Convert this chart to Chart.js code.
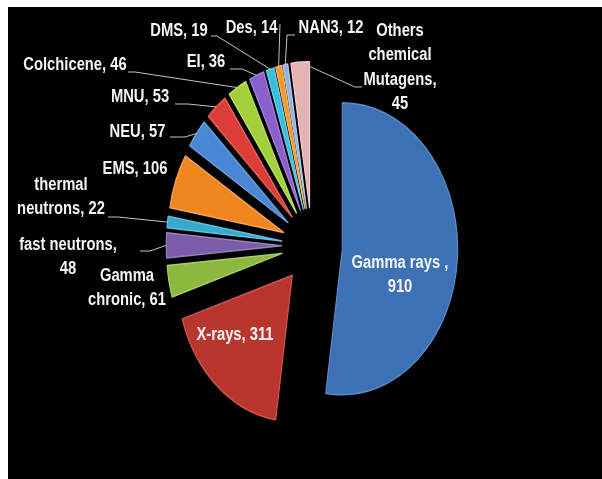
<!DOCTYPE html>
<html>
<head>
<meta charset="utf-8">
<script src="https://cdn.jsdelivr.net/npm/chart.js@4.4.1/dist/chart.umd.min.js"></script>
<style>
  html, body { margin: 0; padding: 0; background: #ffffff; }
  canvas { display: block; }
</style>
</head>
<body>
<canvas id="c" width="602" height="479"></canvas>
<script>
// Mutagen usage: physical and chemical agents
const categories = ['Gamma rays ', 'X-rays', 'Gamma chronic', 'fast neutrons', 'thermal neutrons',
  'EMS', 'NEU', 'MNU', 'Colchicene', 'EI', 'DMS', 'Des', 'NAN3', 'Others chemical Mutagens'];
const counts = [910, 311, 61, 48, 22, 106, 57, 53, 46, 36, 19, 14, 12, 45];

const sliceColors = ['#3d71b4', '#b9362f', '#8cb83f', '#7b5ca9', '#36a9cf', '#f0861f',
  '#4a87d4', '#dc3d38', '#a3cf3b', '#8a60cc', '#3bbde0', '#f49727', '#93b3de', '#e6b3b3'];
const rimColors = ['#5a8bcb', '#cf5650', '#a6cf62', '#9880c0', '#62c0de', '#f6a457',
  '#6aa0e0', '#e86560', '#bde065', '#a383db', '#6ad0ec', '#f8b45e', '#b0c9ea', '#f1cccc'];

// Label text blocks: centre x, middle of first line, words per line, leader start points
const labelLayout = [
  { x: 400,   y: 263, lines: [3, 1] },
  { x: 235,   y: 335, lines: [2] },
  { x: 127,   y: 276, lines: [1, 2] },
  { x: 68,    y: 245, lines: [2, 1], leader: [[140, 251], [150, 251]] },
  { x: 61,    y: 185, lines: [1, 2], leader: [[108, 217], [118, 217]] },
  { x: 135,   y: 169, lines: [2] },
  { x: 137.5, y: 132, lines: [2], leader: [[170, 137], [185, 137]] },
  { x: 140,   y: 97,  lines: [2], leader: [[175, 104], [188, 104]] },
  { x: 75,    y: 65,  lines: [2], leader: [[128, 72], [135, 72]] },
  { x: 206,   y: 62,  lines: [2], leader: [[230, 69], [242, 69]] },
  { x: 179,   y: 31,  lines: [2], leader: [[211, 36], [217, 36]] },
  { x: 251.5, y: 28,  lines: [2], leader: [[280, 24]] },
  { x: 331,   y: 28,  lines: [2], leader: [[295, 35], [287, 35]] },
  { x: 400,   y: 31,  lines: [1, 1, 1, 1], leader: [[362, 87], [355, 87]] }
];

const PIE_RADIUS = 146;     // outer radius before the horizontal squash
const EXPLODE = 38.5;       // distance every slice is pulled out from the centre
const SQUASH_X = 0.79;      // horizontal scale giving the tilted-disc look
const LINE_H = 24.5;
const LABEL_FONT = 'bold 18px "Liberation Sans", Arial, sans-serif';
const LABEL_NARROW = 0.82;  // condensed lettering

function labelLines(i) {
  const words = (categories[i] + ', ' + counts[i]).split(' ');
  const out = [];
  let k = 0;
  for (const n of labelLayout[i].lines) {
    out.push(words.slice(k, k + n).join(' '));
    k += n;
  }
  return out;
}

const explodedPie = {
  id: 'explodedPie',
  beforeDraw(chart) {
    const ctx = chart.ctx;
    ctx.save();
    ctx.fillStyle = '#000000';
    ctx.fillRect(8, 7, chart.width - 8, chart.height - 7);
    ctx.restore();
  },
  afterDatasetUpdate(chart, args) {
    for (const arc of args.meta.data) {
      const mid = (arc.startAngle + arc.endAngle) / 2;
      arc.x += Math.cos(mid) * EXPLODE;
      arc.y += Math.sin(mid) * EXPLODE;
    }
  },
  beforeDatasetsDraw(chart) {
    const a = chart.chartArea;
    const cx = (a.left + a.right) / 2;
    const ctx = chart.ctx;
    ctx.save();
    ctx.translate(cx, 0);
    ctx.scale(SQUASH_X, 1);
    ctx.translate(-cx, 0);
  },
  afterDatasetsDraw(chart) {
    chart.ctx.restore();
  },
  afterDraw(chart) {
    const ctx = chart.ctx;
    const a = chart.chartArea;
    const cx = (a.left + a.right) / 2;
    const arcs = chart.getDatasetMeta(0).data;
    ctx.save();
    // leader lines
    ctx.strokeStyle = '#c4c4c4';
    ctx.lineWidth = 1;
    labelLayout.forEach((lay, i) => {
      if (!lay.leader) return;
      const arc = arcs[i];
      const mid = (arc.startAngle + arc.endAngle) / 2;
      const ux = arc.x + Math.cos(mid) * arc.outerRadius;
      const uy = arc.y + Math.sin(mid) * arc.outerRadius;
      const ax = cx + (ux - cx) * SQUASH_X;
      ctx.beginPath();
      ctx.moveTo(lay.leader[0][0], lay.leader[0][1]);
      for (let k = 1; k < lay.leader.length; k++) ctx.lineTo(lay.leader[k][0], lay.leader[k][1]);
      ctx.lineTo(ax, uy);
      ctx.stroke();
    });
    // labels
    ctx.font = LABEL_FONT;
    ctx.fillStyle = '#f4f4f4';
    ctx.textAlign = 'center';
    ctx.textBaseline = 'middle';
    labelLayout.forEach((lay, i) => {
      labelLines(i).forEach((t, j) => {
        ctx.save();
        ctx.translate(lay.x, lay.y + j * LINE_H);
        ctx.scale(LABEL_NARROW, 1);
        ctx.fillText(t, 0, 0);
        ctx.restore();
      });
    });
    ctx.restore();
  }
};

new Chart(document.getElementById('c'), {
  type: 'pie',
  data: {
    labels: categories,
    datasets: [{
      data: counts,
      backgroundColor: sliceColors,
      borderColor: rimColors,
      borderWidth: 1.5,
      borderJoinStyle: 'round',
      radius: PIE_RADIUS,
      clip: false
    }]
  },
  options: {
    responsive: false,
    animation: false,
    events: [],
    layout: { padding: { left: 22, top: 13, right: 0, bottom: 0 } },
    plugins: { legend: { display: false }, tooltip: { enabled: false } }
  },
  plugins: [explodedPie]
});
</script>
</body>
</html>
